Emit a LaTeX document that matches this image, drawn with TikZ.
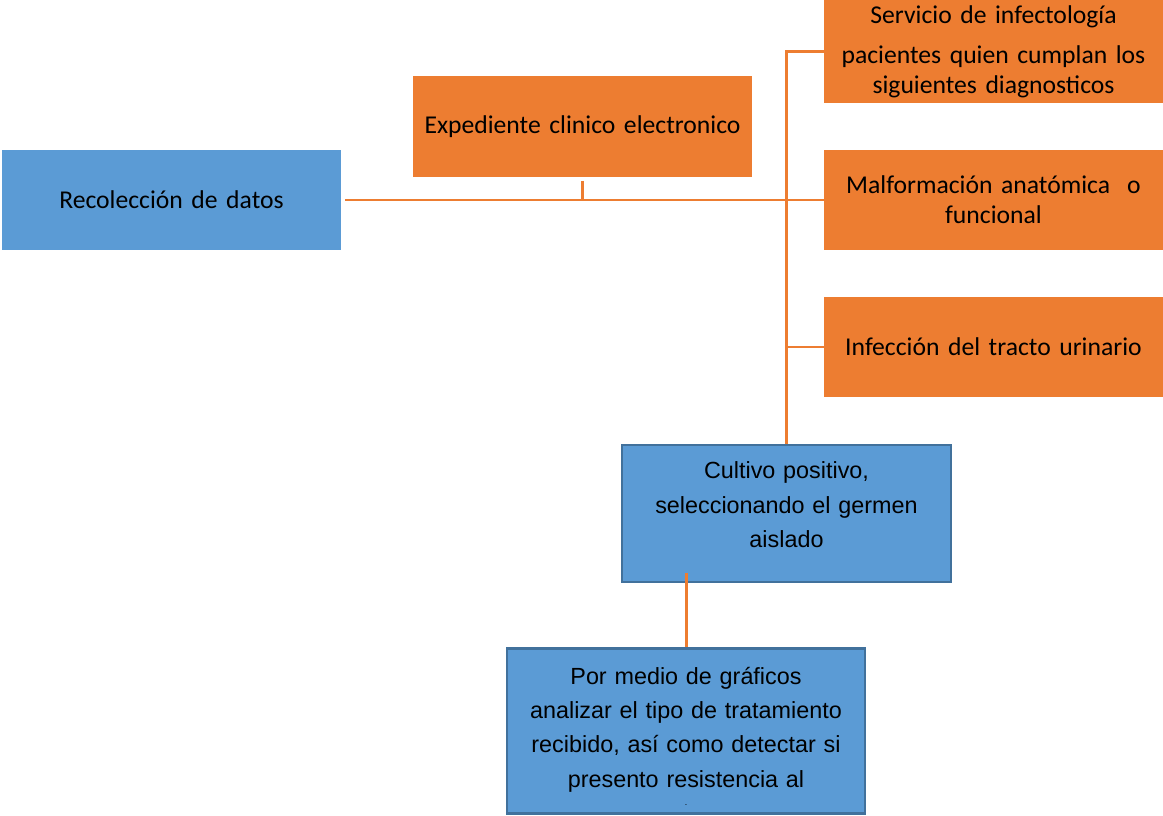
\documentclass[tikz,border=0pt]{standalone}
\usepackage{fontspec}
\setmainfont{Carlito}
\newfontfamily\arialfont{Liberation Sans}
\usepackage{xcolor}
\usetikzlibrary{positioning,calc}

\definecolor{boxblue}{HTML}{5B9BD5}
\definecolor{boxorange}{HTML}{ED7D31}
\definecolor{edgeblue}{HTML}{41719C}

\begin{document}
\begin{tikzpicture}[
  x=0.02cm, y=-0.02cm,
  font=\fontsize{14.6}{17}\selectfont,
  orangebox/.style={fill=boxorange, inner sep=2pt, minimum width=6.78cm, minimum height=2cm, text width=6.6cm, align=center},
  bluebox/.style={fill=boxblue, inner sep=2pt, minimum width=6.78cm, minimum height=2cm, text width=6.6cm, align=center},
  framedbox/.style={fill=boxblue, draw=edgeblue, line width=1.2pt, inner sep=2pt, align=center,
    font=\arialfont\fontsize{13.3}{19.5}\selectfont},
  link/.style={draw=boxorange, line width=1.7pt}
]
\useasboundingbox (0,0) rectangle (1163,815);

\node[bluebox] (datos) at (171.5,200) {Recolección de datos};
\node[orangebox, minimum height=2.02cm] (expediente) at (582.5,126.5) {Expediente clinico electronico};
\node[orangebox, minimum height=2.06cm] (servicio) at (993.5,51.5)
  {Servicio de infectología\\[6pt] pacientes quien cumplan los\\ siguientes diagnosticos};
\node[orangebox] (malformacion) at (993.5,200) {Malformación anatómica \ o\\ funcional};
\node[orangebox] (infeccion) at (993.5,347) {Infección del tracto urinario};
\node[framedbox, minimum width=6.58cm, minimum height=2.74cm, text width=6.4cm] (cultivo) at (786.5,513.5)
  {Cultivo positivo,\\ seleccionando el germen\\ aislado\rule[-10pt]{0pt}{10pt}};
\node[framedbox, minimum width=7.16cm, minimum height=3.3cm, text width=7cm] (pormedio) at (686,731)
  {\rule{0pt}{16pt}Por medio de gráficos\\ analizar el tipo de tratamiento\\ recibido, así como detectar si\\ presento resistencia al\\[-9pt] {\fontsize{5}{5}\selectfont .}};

% lineas de union
\draw[link] ([xshift=2pt]datos.east) -- (malformacion.west);
\draw[link] ([yshift=-2pt]expediente.south) -- (expediente.south |- datos.east);
\draw[link] (cultivo.north) |- (servicio.west);
\draw[link] (infeccion.west) -- (infeccion.west -| cultivo.north);
\draw[link] ([yshift=6pt]pormedio.north |- cultivo.south) -- (pormedio.north);
\end{tikzpicture}
\end{document}
